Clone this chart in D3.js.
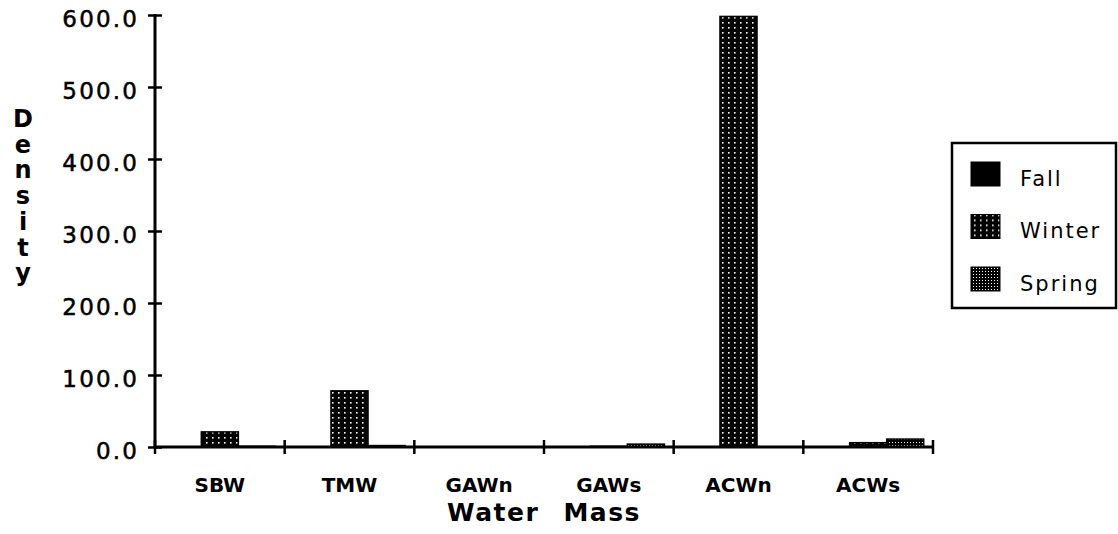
<!DOCTYPE html>
<html><head><meta charset="utf-8">
<script src="https://cdn.jsdelivr.net/npm/d3@7"></script>
<style>html,body{margin:0;padding:0;background:#fff;} svg{display:block;}</style>
</head><body>
<svg id="chart" width="1118" height="534"></svg>
<script>
// ---- data ----
const categories = ["SBW", "TMW", "GAWn", "GAWs", "ACWn", "ACWs"];
const seriesNames = ["Fall", "Winter", "Spring"];
const fallValues = [0, 0, 0, 0, 0, 0];
const winterValues = [21, 78, 0, 1, 598, 6];
const springValues = [1, 2, 0, 4, 0, 11];
const yTickValues = [0, 100, 200, 300, 400, 500, 600];
const yTitle = "Density";
const xTitle = "Water Mass";

const seriesValues = { Fall: fallValues, Winter: winterValues, Spring: springValues };

const svg = d3.select("#chart");
const plotLeft = 155, plotRight = 933, plotTop = 15, plotBottom = 447;

// patterns
const defs = svg.append("defs");
const pw = defs.append("pattern").attr("id", "pWinter").attr("patternUnits", "userSpaceOnUse")
  .attr("width", 6).attr("height", 5);
pw.append("rect").attr("width", 6).attr("height", 5).attr("fill", "#000");
pw.append("rect").attr("x", 2).attr("y", 2).attr("width", 1.6).attr("height", 1.6).attr("fill", "#fff");
const ps = defs.append("pattern").attr("id", "pSpring").attr("patternUnits", "userSpaceOnUse")
  .attr("width", 3).attr("height", 3);
ps.append("rect").attr("width", 3).attr("height", 3).attr("fill", "#000");
ps.append("rect").attr("x", 1).attr("y", 1).attr("width", 1).attr("height", 1).attr("fill", "#fff");
const fills = { Fall: "#000", Winter: "url(#pWinter)", Spring: "url(#pSpring)" };

// scales
const y = d3.scaleLinear().domain([0, 600]).range([plotBottom, plotTop]);
const x0 = d3.scaleBand().domain(categories).range([plotLeft, plotRight]).padding(0);
const x1 = d3.scaleBand().domain(seriesNames).range([0, x0.bandwidth()]).paddingInner(0).paddingOuter(0.25);

// bars
const barData = [];
categories.forEach((c, i) => seriesNames.forEach(s => {
  const v = seriesValues[s][i];
  if (v > 0) barData.push({ c, s, v });
}));
svg.append("g").selectAll("rect").data(barData).join("rect")
  .attr("x", d => x0(d.c) + x1(d.s))
  .attr("y", d => y(d.v))
  .attr("width", x1.bandwidth())
  .attr("height", d => y(0) - y(d.v))
  .attr("fill", d => fills[d.s])
  .attr("stroke", "#000").attr("stroke-width", 1.5);

// y axis
const yAxis = svg.append("g").attr("transform", `translate(${plotLeft},0)`)
  .call(d3.axisLeft(y).tickValues(yTickValues).tickFormat(d3.format(".1f")).tickSize(7));
yAxis.select(".domain").remove();
yAxis.selectAll(".tick line").attr("x1", -7).attr("x2", 7).attr("stroke", "#000").attr("stroke-width", 2.5);
yAxis.selectAll(".tick text")
  .attr("x", -18 + 2.2).attr("dy", 0).attr("y", 11)
  .attr("font-family", "DejaVu Sans").attr("font-size", 23).attr("letter-spacing", 2.2)
  .attr("fill", "#000").attr("stroke", "#000").attr("stroke-width", 0.5);
svg.append("line").attr("x1", plotLeft).attr("x2", plotLeft).attr("y1", plotTop - 1).attr("y2", plotBottom + 1)
  .attr("stroke", "#000").attr("stroke-width", 3);

// x axis
const xAxis = svg.append("g").attr("transform", `translate(0,${plotBottom})`)
  .call(d3.axisBottom(x0).tickSize(0));
xAxis.select(".domain").remove();
xAxis.selectAll(".tick text").attr("y", 45).attr("dy", 0)
  .attr("font-family", "DejaVu Sans").attr("font-weight", "bold").attr("font-size", 20).attr("fill", "#000");
const boundaries = categories.map(c => x0(c)).concat([x0.range()[1]]);
svg.append("g").selectAll("line").data(boundaries).join("line")
  .attr("x1", d => d).attr("x2", d => d).attr("y1", plotBottom - 7).attr("y2", plotBottom + 7)
  .attr("stroke", "#000").attr("stroke-width", 2.5);
svg.append("line").attr("x1", plotLeft).attr("x2", plotRight).attr("y1", plotBottom).attr("y2", plotBottom)
  .attr("stroke", "#000").attr("stroke-width", 3);

// y title (stacked letters)
svg.append("g").selectAll("text").data(yTitle.split("")).join("text")
  .attr("x", 23).attr("y", (d, i) => 127 + i * 25.7)
  .attr("text-anchor", "middle")
  .attr("font-family", "DejaVu Sans").attr("font-weight", "bold").attr("font-size", 24)
  .text(d => d);

// x title
svg.append("text").attr("x", (plotLeft + plotRight) / 2).attr("y", 521)
  .attr("text-anchor", "middle").attr("word-spacing", 14).attr("letter-spacing", 1.5)
  .attr("font-family", "DejaVu Sans").attr("font-weight", "bold").attr("font-size", 25)
  .text(xTitle);

// legend
const legend = svg.append("g");
legend.append("rect").attr("x", 952).attr("y", 143).attr("width", 164).attr("height", 165)
  .attr("fill", "#fff").attr("stroke", "#000").attr("stroke-width", 2.5);
const li = legend.selectAll("g.item").data(seriesNames).join("g").attr("class", "item")
  .attr("transform", (d, i) => `translate(0,${i * 52.5})`);
li.append("rect").attr("x", 971).attr("y", 162).attr("width", 29).attr("height", 24)
  .attr("fill", d => fills[d]).attr("stroke", "#000").attr("stroke-width", 1);
li.append("text").attr("x", 1020).attr("y", 185.5)
  .attr("font-family", "DejaVu Sans").attr("font-size", 21).attr("letter-spacing", 2)
  .text(d => d);
</script>
</body></html>
